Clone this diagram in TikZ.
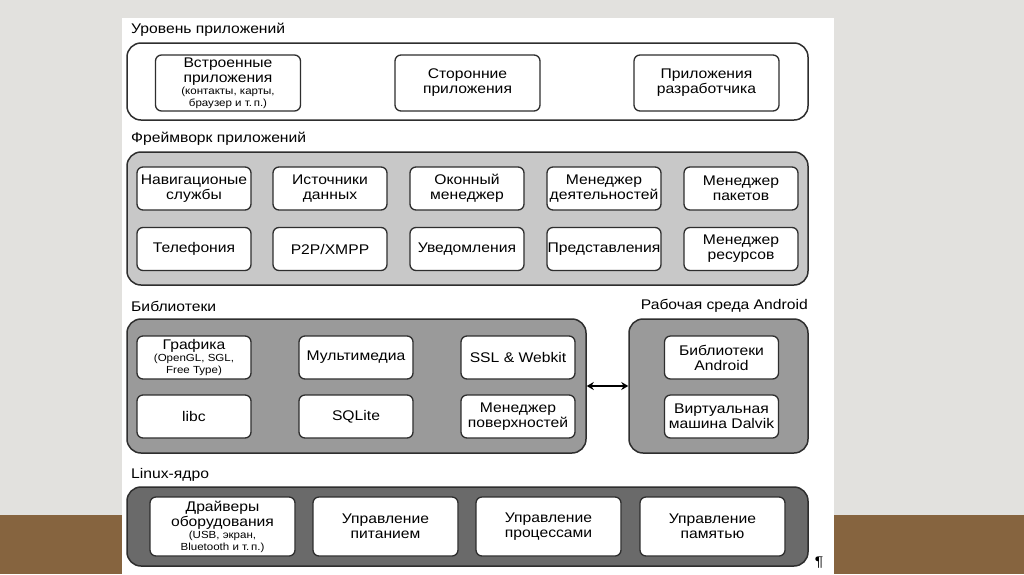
\documentclass[tikz,border=0pt]{standalone}
\usepackage{fontspec}
\setmainfont{Liberation Sans}[FakeStretch=1.12]
\usetikzlibrary{arrows.meta}

\definecolor{wall}{HTML}{E2E1DE}
\definecolor{floorwood}{HTML}{86643F}
\definecolor{fwgray}{HTML}{C8C8C8}
\definecolor{libgray}{HTML}{9A9A9A}
\definecolor{kergray}{HTML}{6A6A6A}
\definecolor{edge}{HTML}{2E2E2E}

\tikzset{
  layer/.style={draw=edge, line width=1.5pt, rounded corners=14pt, inner sep=0pt},
  unit/.style={draw=edge, fill=white, line width=1.3pt, rounded corners=6pt,
    inner sep=0pt, align=center, minimum width=114, minimum height=43,
    font=\fontsize{14}{15}\selectfont},
  wideunit/.style={unit, minimum width=145, minimum height=59},
  caption/.style={inner sep=0pt, font=\fontsize{14}{15}\selectfont},
}
\newcommand{\note}{\fontsize{10.3}{11}\selectfont}

\begin{document}
\begin{tikzpicture}[x=1pt,y=-1pt]
\useasboundingbox (0,0) rectangle (1024,574);
% slide background and page
\fill[wall] (0,0) rectangle (1024,574);
\fill[floorwood] (0,515) rectangle (1024,574);
\fill[white] (122,18) rectangle (834,574);

% application layer
\node[caption, anchor=west] (applbl) at (131,30) {Уровень приложений};
\node[layer, fill=white, minimum width=681, minimum height=77] (applayer) at (467.5,81.5) {};
\node[unit, minimum width=145, minimum height=56] (builtin) at (228,83)
  {Встроенные\\приложения\\[-3pt]{\note (контакты, карты,}\\[-3pt]{\note браузер и т.\,п.)}};
\node[unit, minimum width=145, minimum height=56] (thirdparty) at (467.5,83) {Сторонние\\приложения};
\node[unit, minimum width=145, minimum height=56] (devapps) at (706.5,83) {Приложения\\разработчика};

% application framework
\node[caption, anchor=west] (fwlbl) at (131,139) {Фреймворк приложений};
\node[layer, fill=fwgray, minimum width=681, minimum height=133] (fwlayer) at (467.5,218.5) {};
\foreach \n/\x/\t in {nav/194/{Навигационые\\службы}, src/330/{Источники\\данных},
    wnd/467/{Оконный\\менеджер}, act/604/{Менеджер\\деятельностей}, pkg/741/{Менеджер\\пакетов}}
  \node[unit] (\n) at (\x,188.5) {\t};
\foreach \n/\x/\t in {tel/194/{Телефония}, xmpp/330/{P2P/XMPP},
    ntf/467/{Уведомления}, view/604/{Представления}, res/741/{Менеджер\\ресурсов}}
  \node[unit] (\n) at (\x,249) {\t};

% libraries and android runtime
\node[caption, anchor=west] (liblbl) at (131,306) {Библиотеки};
\node[caption, anchor=east] (rtlbl) at (808,306) {Рабочая среда Android};
\node[layer, fill=libgray, minimum width=459, minimum height=134] (liblayer) at (356.5,386) {};
\node[layer, fill=libgray, minimum width=179, minimum height=134] (rtlayer) at (718.5,386) {};
\node[unit] (gfx) at (194,357.5) {Графика\\[-3pt]{\note (OpenGL, SGL,}\\[-3pt]{\note Free Type)}};
\node[unit] (media) at (356,357.5) {Мультимедиа};
\node[unit] (ssl) at (518,357.5) {SSL \& Webkit};
\node[unit] (libc) at (194,416.5) {libc};
\node[unit] (sqlite) at (356,416.5) {SQLite};
\node[unit] (surf) at (518,416.5) {Менеджер\\поверхностей};
\node[unit] (alib) at (721.5,357.5) {Библиотеки\\Android};
\node[unit] (dalvik) at (721.5,416.5) {Виртуальная\\машина Dalvik};
\draw[{Stealth[length=7pt,width=8pt]}-{Stealth[length=7pt,width=8pt]}, line width=1.3pt]
  (liblayer.east) -- (rtlayer.west);

% linux kernel
\node[caption, anchor=west] (kerlbl) at (131,475) {Linux-ядро};
\node[layer, fill=kergray, minimum width=681, minimum height=79] (kerlayer) at (467.5,526.5) {};
\node[wideunit] (drv) at (222.5,526.5)
  {Драйверы\\оборудования\\[-3pt]{\note (USB, экран,}\\[-3pt]{\note Bluetooth и т.\,п.)}};
\node[wideunit] (power) at (385.5,526.5) {Управление\\питанием};
\node[wideunit] (proc) at (548.5,526.5) {Управление\\процессами};
\node[wideunit] (mem) at (712.5,526.5) {Управление\\памятью};
\node[caption] (para) at (819,563) {¶};
\end{tikzpicture}
\end{document}
